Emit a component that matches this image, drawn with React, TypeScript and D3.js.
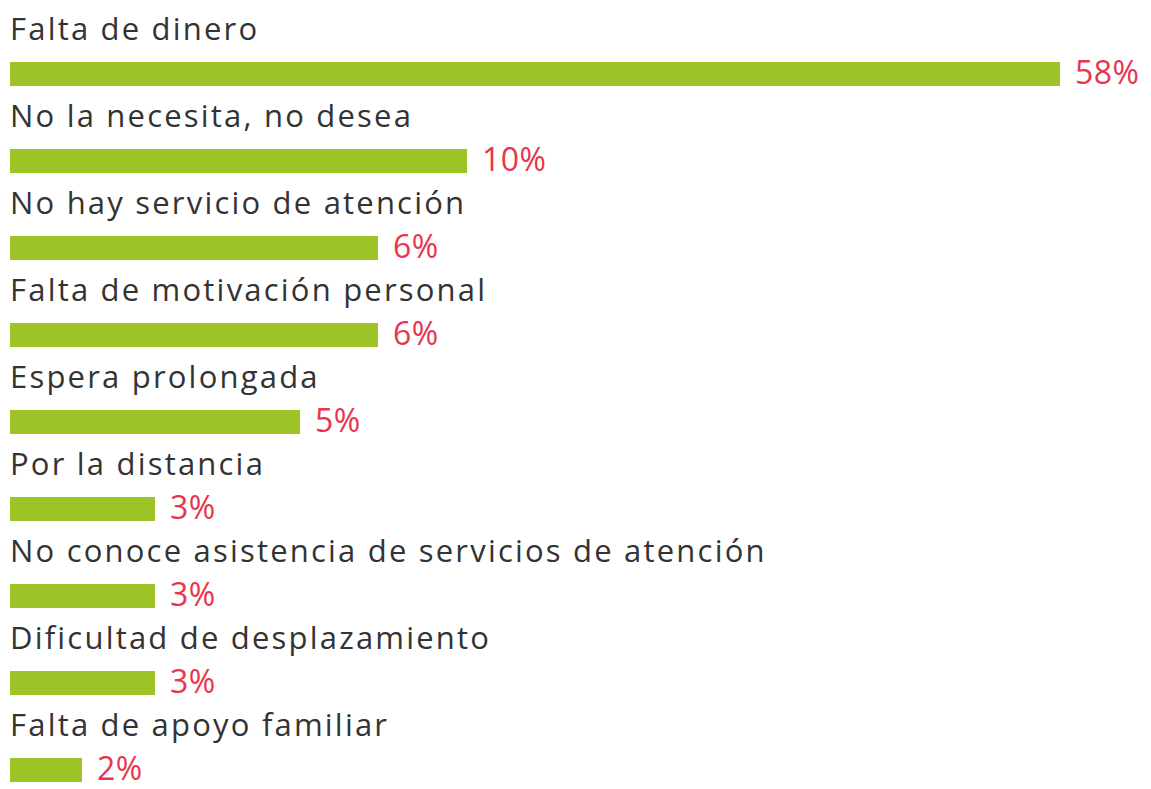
import React from "react";
import * as d3 from "d3";

const categories = [
  "Falta de dinero",
  "No la necesita, no desea",
  "No hay servicio de atención",
  "Falta de motivación personal",
  "Espera prolongada",
  "Por la distancia",
  "No conoce asistencia de servicios de atención",
  "Dificultad de desplazamiento",
  "Falta de apoyo familiar",
];
const values = [58, 10, 6, 6, 5, 3, 3, 3, 2];

const W = 1151;
const H = 789;

export default function App() {
  const left = 10;
  // the original infographic does not use a linear scale; piecewise linear mapping reproduces its bar lengths
  const x = d3
    .scaleLinear()
    .domain([0, 2, 3, 5, 6, 10, 58])
    .range([0, 72, 145, 290, 368, 457, 1050]);
  const y = d3
    .scaleBand<number>()
    .domain(d3.range(categories.length))
    .range([62, 62 + 87 * categories.length])
    .paddingInner(0)
    .paddingOuter(0);
  const barH = 24;

  return (
    <div style={{ position: "absolute", left: 0, top: 0 }}>
      <svg width={W} height={H} style={{ display: "block", background: "#fff" }}>
        {categories.map((c, i) => {
          const top = y(i) as number;
          const v = values[i];
          const w = x(v);
          return (
            <g key={c}>
              <text
                x={left}
                y={top - 22}
                fontFamily="'Open Sans', sans-serif"
                fontSize={31}
                letterSpacing={2.2}
                fill="#333"
              >
                {c}
              </text>
              <rect x={left} y={top} width={w} height={barH} fill="#9dc427" />
              <text
                x={left + w + 15}
                y={top + barH - 2}
                fontFamily="'Open Sans', sans-serif"
                fontSize={32}
                letterSpacing={0.5}
                fill="#e8354d"
              >
                {v}%
              </text>
            </g>
          );
        })}
      </svg>
    </div>
  );
}
